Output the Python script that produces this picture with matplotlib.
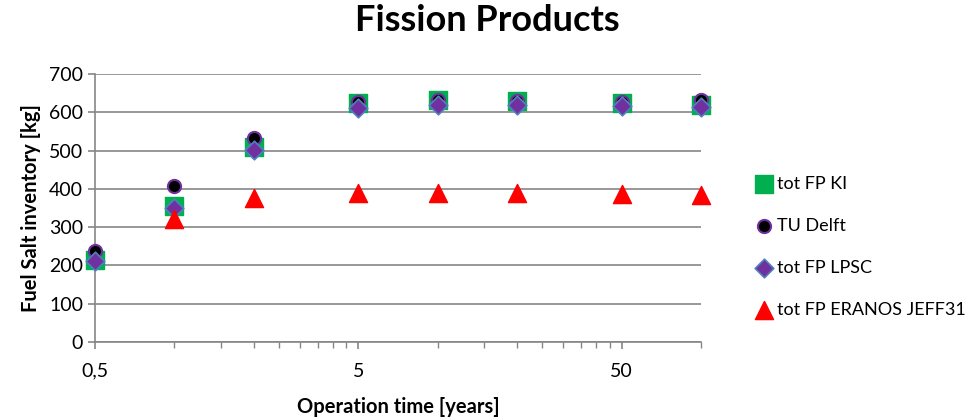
import matplotlib
matplotlib.use("Agg")
import matplotlib.pyplot as plt
import numpy as np

plt.rcParams['font.family'] = ['Lato', 'DejaVu Sans']

# operation time [years]
years = [0.5, 1, 2, 5, 10, 20, 50, 100]
years_eranos = [1, 2, 5, 10, 20, 50, 100]

# fuel salt inventory [kg]
fp_ki = [214, 356, 510, 623, 631, 630, 623, 620]
tu_delft = [237, 407, 533, 627, 631, 630, 627, 631]
fp_lpsc = [211, 349, 501, 610, 620, 618, 616, 614]
fp_eranos = [320, 377, 390, 390, 388, 386, 385]

y_ticks = [0, 100, 200, 300, 400, 500, 600, 700]
x_ticks = [0.5, 5, 50]
x_tick_labels = ["0,5", "5", "50"]

grey = "#868686"

fig = plt.figure(figsize=(9.75, 4.2), dpi=100)
ax = fig.add_axes([0.0974, 0.1857, 0.6216, 0.6381])

ax.scatter(years, fp_ki, marker="s", s=150, color="#00B050", zorder=3,
           clip_on=False, label="tot FP KI")
ax.scatter(years, tu_delft, marker="o", s=90, color="black", edgecolors="#7030A0",
           linewidths=1.5, zorder=4, clip_on=False, label="TU Delft")
ax.scatter(years, fp_lpsc, marker="D", s=90, color="#7030A0", edgecolors="#4F81BD",
           linewidths=1.2, zorder=5, clip_on=False, label="tot FP LPSC")
ax.scatter(years_eranos, fp_eranos, marker="^", s=170, color="#FF0000", zorder=6,
           clip_on=False, label="tot FP ERANOS JEFF31")

ax.set_xscale("log")
ax.set_xlim(0.5, 100)
ax.set_ylim(0, 700)
ax.set_xticks(x_ticks)
ax.set_xticklabels(x_tick_labels)
minor = [0.5 * k for k in range(2, 10)] + [5 * k for k in range(2, 10)] + [100]
ax.set_xticks(minor, minor=True)
ax.set_xticklabels([], minor=True)
ax.set_yticks(y_ticks)

ax.yaxis.grid(True, color=grey, linewidth=1.2)
ax.set_axisbelow(True)
for side in ["top", "right"]:
    ax.spines[side].set_visible(False)
for side in ["left", "bottom"]:
    ax.spines[side].set_color(grey)
    ax.spines[side].set_linewidth(1.2)

ax.tick_params(axis="both", which="major", colors=grey, labelcolor="black",
               labelsize=14, length=5, width=1.2)
ax.tick_params(axis="x", which="major", pad=10)
ax.tick_params(axis="x", which="minor", colors=grey, length=4, width=1)

ax.set_xlabel("Operation time [years]", fontsize=14.5, fontweight="bold", labelpad=12)
ax.set_ylabel("Fuel Salt inventory [kg]", fontsize=14.5, fontweight="bold", labelpad=6)
fig.suptitle("Fission Products", fontsize=26, fontweight="bold", x=0.5, y=0.99)

ax.legend(loc="center left", bbox_to_anchor=(0.765, 0.412), bbox_transform=fig.transFigure,
          frameon=False, fontsize=13, labelspacing=1.45, handletextpad=0.1,
          handlelength=1.2, borderaxespad=0)

fig.savefig("out.png", dpi=100)
